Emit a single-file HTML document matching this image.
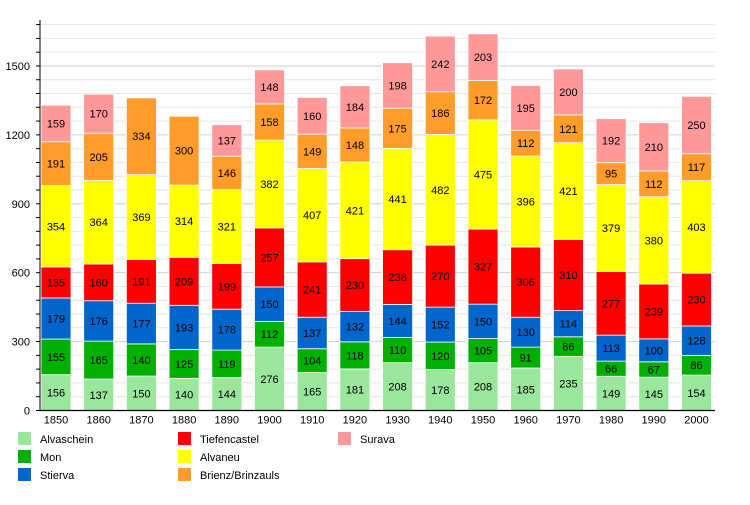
<!DOCTYPE html>
<html><head><meta charset="utf-8"><style>
body{margin:0;background:#fff;width:750px;height:500px;overflow:hidden}
svg{font-family:"Liberation Sans",sans-serif}
</style></head><body>
<svg id="c" width="750" height="500" xmlns="http://www.w3.org/2000/svg"></svg>
<script>
const years=[1850,1860,1870,1880,1890,1900,1910,1920,1930,1940,1950,1960,1970,1980,1990,2000];
const d=[[156,155,179,135,354,191,159],[137,165,176,160,364,205,170],[150,140,177,191,369,334,0],[140,125,193,209,314,300,0],[144,119,178,199,321,146,137],[276,112,150,257,382,158,148],[165,104,137,241,407,149,160],[181,118,132,230,421,148,184],[208,110,144,238,441,175,198],[178,120,152,270,482,186,242],[208,105,150,327,475,172,203],[185,91,130,306,396,112,195],[235,86,114,310,421,121,200],[149,66,113,277,379,95,192],[145,67,100,239,380,112,210],[154,86,128,230,403,117,250]];
const cols=["#99e69c","#00b000","#0066cc","#ff0000","#ffff00","#ff9c2a","#ff9999"];
const names=["Alvaschein","Mon","Stierva","Tiefencastel","Alvaneu","Brienz/Brinzauls","Surava"];
const Y0=410.5,S=0.2297;let s="";
for(let v=0;v<=1700;v+=60){const y=Y0-v*S;if(v>0)s+=`<line x1="40" x2="715" y1="${y}" y2="${y}" stroke="${v%300==0?'#cfcfcf':'#e6e6e6'}" stroke-width="1"/>`;s+=`<line x1="36" x2="40" y1="${y}" y2="${y}" stroke="#000"/>`;}
for(let v=0;v<=1500;v+=300){const y=Y0-v*S;s+=`<text x="30" y="${y+4}" font-size="11" text-anchor="end">${v}</text>`;}
d.forEach((r,i)=>{const x=41+42.7*i;let c=0;r.forEach((v,k)=>{if(!v)return;const y1=Y0-(c+v)*S,h=v*S;s+=`<rect x="${x}" y="${y1}" width="30" height="${h}" fill="${cols[k]}" stroke="#fff" stroke-width="0.8"/>`;s+=`<text x="${x+15}" y="${y1+h/2+4}" font-size="11" text-anchor="middle">${v}</text>`;c+=v;});s+=`<text x="${x+15}" y="${Y0+13}" font-size="11" text-anchor="middle">${years[i]}</text>`;});
s+=`<line x1="40" x2="40" y1="20" y2="${Y0}" stroke="#000"/><line x1="40" x2="715" y1="${Y0}" y2="${Y0}" stroke="#000" stroke-width="1.3"/>`;
names.forEach((n,k)=>{const cx=[18,178,338][Math.floor(k/3)],y=432+18*(k%3);s+=`<rect x="${cx}" y="${y}" width="13" height="13" fill="${cols[k]}"/><text x="${cx+22}" y="${y+11}" font-size="11">${n}</text>`;});
document.getElementById('c').innerHTML=s;
</script>
</body></html>
